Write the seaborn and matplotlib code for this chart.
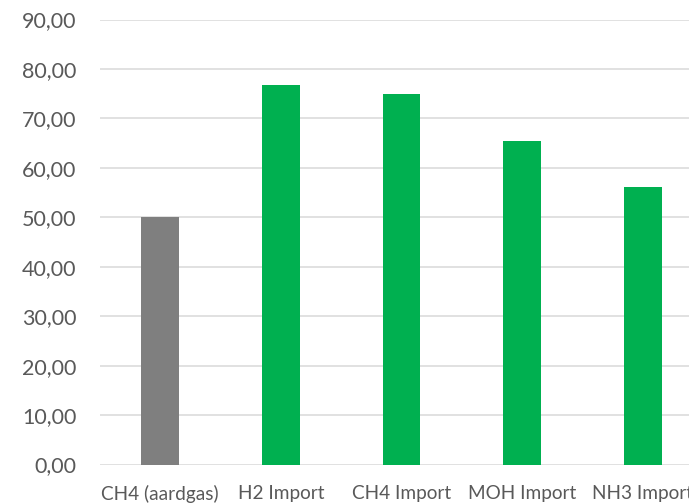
import matplotlib
matplotlib.use("Agg")
import matplotlib.pyplot as plt
from matplotlib.ticker import FuncFormatter, MultipleLocator
import seaborn as sns
import pandas as pd

categories = ["CH4 (aardgas)", "H2 Import", "CH4 Import", "MOH Import", "NH3 Import"]
values = [50.0, 76.8, 74.9, 65.4, 56.1]
bar_colors = ["#7F7F7F", "#00B050", "#00B050", "#00B050", "#00B050"]

df = pd.DataFrame({"categorie": categories, "waarde": values})

sns.set_theme(style="white")
plt.rcParams["font.family"] = ["Lato", "DejaVu Sans"]

fig = plt.figure(figsize=(6.89, 5.04), dpi=100)
W, H = 689, 504
left, right = 100, 703
top, bottom = 19.5, 464.5
ax = fig.add_axes([left / W, (H - bottom) / H, (right - left) / W, (bottom - top) / H])

sns.barplot(data=df, x="categorie", y="waarde", hue="categorie",
            palette=dict(zip(categories, bar_colors)), legend=False,
            width=0.315, saturation=1, ax=ax, linewidth=0)

ax.set_ylim(0, 90)
ax.set_xlim(-0.5, len(categories) - 0.5)
ax.yaxis.set_major_locator(MultipleLocator(10))
ax.yaxis.set_major_formatter(FuncFormatter(lambda v, _: f"{v:.2f}".replace(".", ",")))
ax.grid(axis="y", color="#D9D9D9", linewidth=1.1)
ax.set_axisbelow(True)
for s in ax.spines.values():
    s.set_visible(False)
ax.set_xlabel("")
ax.set_ylabel("")
ax.tick_params(axis="y", length=0, pad=17, labelsize=15.5, labelcolor="#595959")
ax.tick_params(axis="x", length=0, pad=14.5, labelsize=13.7, labelcolor="#595959")

fig.savefig("out.png", dpi=100)
